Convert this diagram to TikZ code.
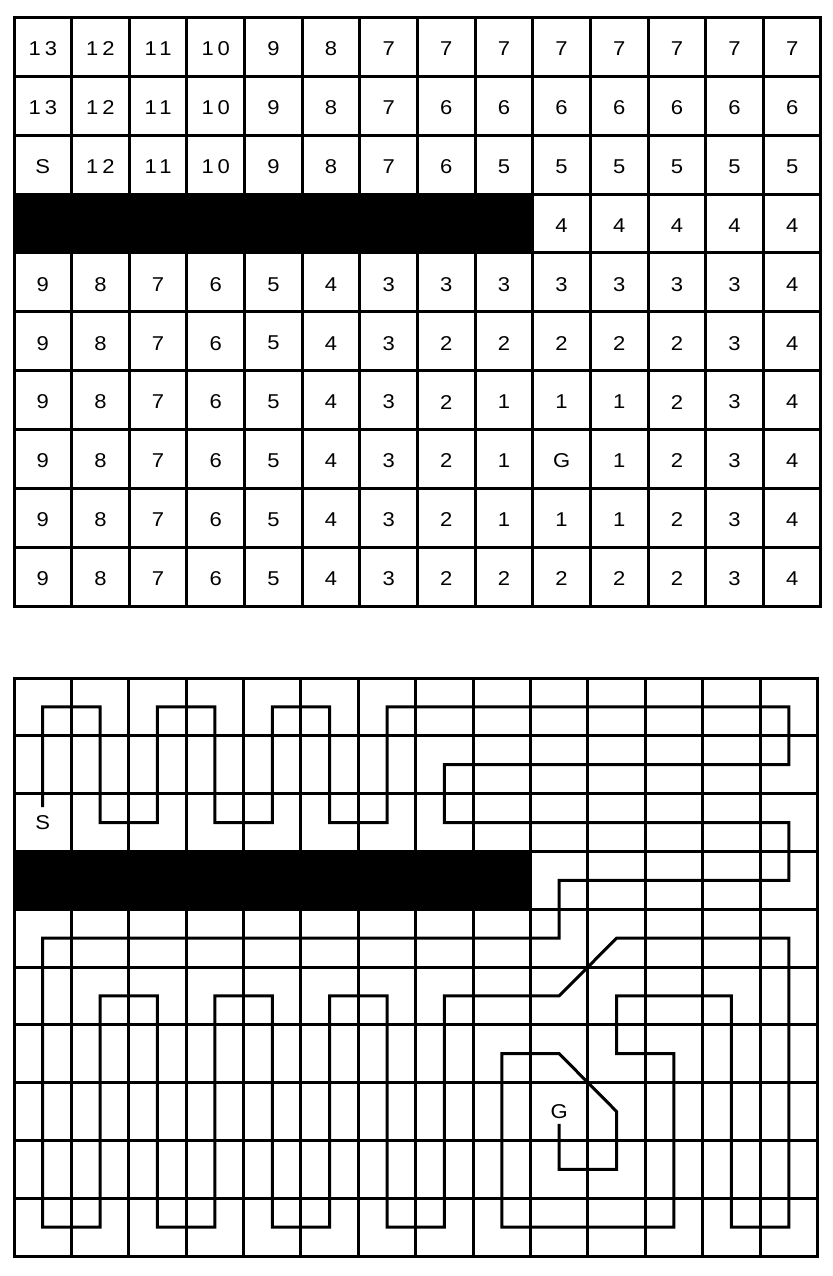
\documentclass[tikz,border=0pt]{standalone}
\usepackage{fontspec}
\setmainfont{Liberation Sans}
\newfontfamily\cellfont[LetterSpace=20,FakeStretch=1.1]{Liberation Sans}
\usepackage{tikz}
\usetikzlibrary{positioning}

\begin{document}
\begin{tikzpicture}[
  x=1pt, y=1pt,
  cellline/.style={line width=3pt,line cap=rect},
  walk/.style={line width=3pt},
  num/.style={font=\cellfont\fontsize{20}{24}\selectfont,inner sep=0pt,yshift=-2pt},
  endpt/.style={font=\cellfont\fontsize{20}{24}\selectfont,inner sep=5pt}
]
\useasboundingbox (0,0) rectangle (832,-1276);

% distance grid
\begin{scope}[shift={(14pt,-17.5pt)},x=57.64pt,y=-58.85pt]
  \fill (0,3) rectangle (9,4);
  \foreach \c in {0,...,14} \draw[cellline] (\c,0) -- (\c,10);
  \foreach \r in {0,...,10} \draw[cellline] (0,\r) -- (14,\r);
  \foreach \r/\vals in {
    0/{13,12,11,10,9,8,7,7,7,7,7,7,7,7},
    1/{13,12,11,10,9,8,7,6,6,6,6,6,6,6},
    2/{S,12,11,10,9,8,7,6,5,5,5,5,5,5},
    4/{9,8,7,6,5,4,3,3,3,3,3,3,3,4},
    5/{9,8,7,6,5,4,3,2,2,2,2,2,3,4},
    6/{9,8,7,6,5,4,3,2,1,1,1,2,3,4},
    7/{9,8,7,6,5,4,3,2,1,G,1,2,3,4},
    8/{9,8,7,6,5,4,3,2,1,1,1,2,3,4},
    9/{9,8,7,6,5,4,3,2,2,2,2,2,3,4}}
    \foreach \v [count=\c from 0] in \vals
      \node[num] (t\r-\c) at (\c+0.5,\r+0.5) {\v};
  \foreach \c in {9,...,13}
    \node[num] (t3-\c) at (\c+0.5,3.5) {4};
\end{scope}

% path grid
\begin{scope}[shift={(14pt,-678pt)},x=57.39pt,y=-57.8pt]
  \fill (0,3) rectangle (9,4);
  \foreach \c in {0,...,14} \draw[cellline] (\c,0) -- (\c,10);
  \foreach \r in {0,...,10} \draw[cellline] (0,\r) -- (14,\r);
  \begin{scope}[shift={(0.5,0.5)}]
    \node[endpt] (start) at (0,2) {S};
    \node[endpt] (goal) at (9,7) {G};
    \draw[walk] ([yshift=3pt]start.north) -- (0,0) -- (1,0) -- (1,2) -- (2,2)
      -- (2,0) -- (3,0) -- (3,2) -- (4,2) -- (4,0) -- (5,0) -- (5,2) -- (6,2)
      -- (6,0) -- (13,0) -- (13,1) -- (7,1) -- (7,2) -- (13,2) -- (13,3)
      -- (9,3) -- (9,4) -- (0,4) -- (0,9) -- (1,9) -- (1,5) -- (2,5) -- (2,9)
      -- (3,9) -- (3,5) -- (4,5) -- (4,9) -- (5,9) -- (5,5) -- (6,5) -- (6,9)
      -- (7,9) -- (7,5) -- (9,5) -- (10,4) -- (13,4) -- (13,9) -- (12,9)
      -- (12,5) -- (10,5) -- (10,6) -- (11,6) -- (11,9) -- (8,9) -- (8,6)
      -- (9,6) -- (10,7) -- (10,8) -- (9,8) -- (goal.south);
  \end{scope}
\end{scope}
\end{tikzpicture}
\end{document}
